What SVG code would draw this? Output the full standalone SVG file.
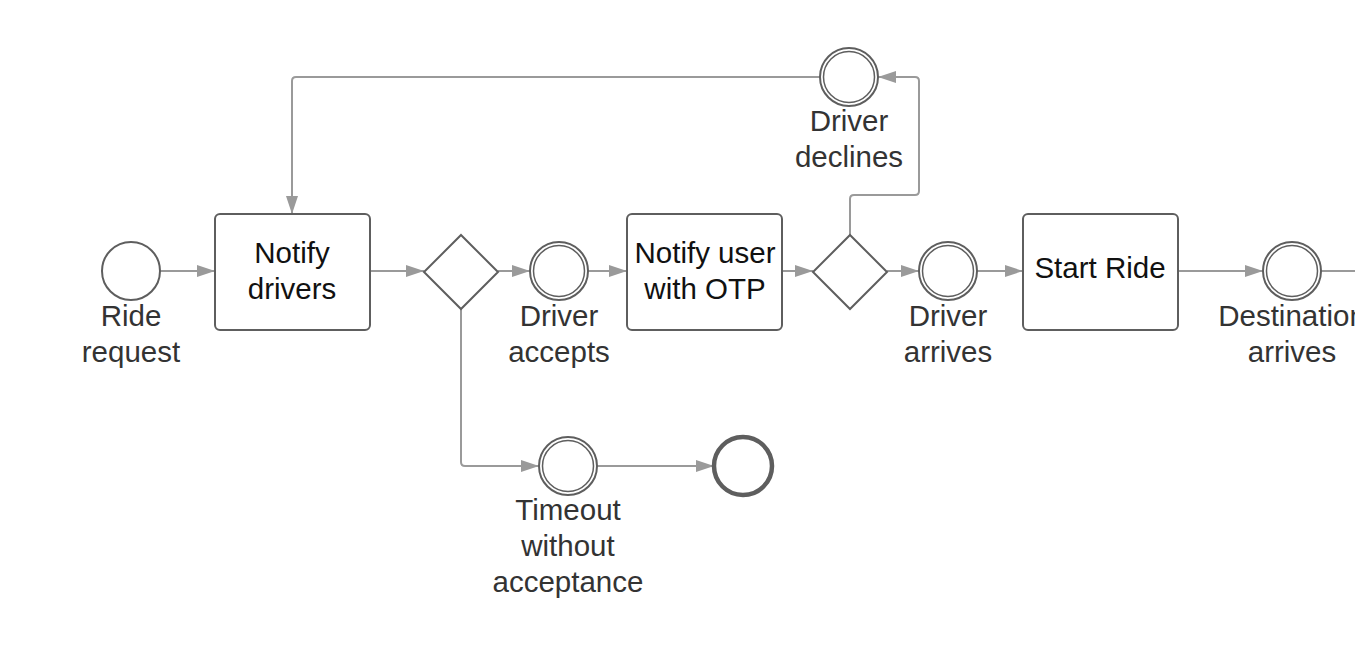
<svg xmlns="http://www.w3.org/2000/svg" width="1355" height="650" viewBox="0 0 1355 650">
<defs>
<style>
.shape{fill:#fff;stroke:#5e5e5e;stroke-width:2}
.thin{fill:none;stroke:#5e5e5e;stroke-width:1.5}
.end{fill:#fff;stroke:#5e5e5e;stroke-width:4.5}
.conn{fill:none;stroke:#9a9a9a;stroke-width:2;stroke-linejoin:round}
.lbl{font-family:"Liberation Sans",Arial,sans-serif;font-size:29.5px;fill:#333;text-anchor:middle}
.btxt{font-family:"Liberation Sans",Arial,sans-serif;font-size:29.5px;fill:#111;text-anchor:middle}
</style>
<marker id="arr" viewBox="0 0 18 12" refX="18" refY="6" markerWidth="18" markerHeight="12" markerUnits="userSpaceOnUse" orient="auto">
<path d="M0,0 L18,6 L0,12 Z" fill="#9a9a9a"/>
</marker>
</defs>
<rect width="1355" height="650" fill="#fff"/>
<g id="connectors">
<path class="conn" d="M160,271 L215,271" marker-end="url(#arr)"/>
<path class="conn" d="M370,271 L424,271" marker-end="url(#arr)"/>
<path class="conn" d="M498,271 L530,271" marker-end="url(#arr)"/>
<path class="conn" d="M588,271 L627,271" marker-end="url(#arr)"/>
<path class="conn" d="M782,271 L813,271" marker-end="url(#arr)"/>
<path class="conn" d="M887,271 L919,271" marker-end="url(#arr)"/>
<path class="conn" d="M977,271 L1023,271" marker-end="url(#arr)"/>
<path class="conn" d="M1178,271 L1263,271" marker-end="url(#arr)"/>
<path class="conn" d="M1321,271 L1360,271"/>
<path class="conn" d="M850,235 L850,199 Q850,195 854,195 L915,195 Q919,195 919,191 L919,81 Q919,77 915,77 L878,77" marker-end="url(#arr)"/>
<path class="conn" d="M820,77 L296,77 Q292,77 292,81 L292,214" marker-end="url(#arr)"/>
<path class="conn" d="M461,309 L461,462 Q461,466 465,466 L539,466" marker-end="url(#arr)"/>
<path class="conn" d="M597,466 L714,466" marker-end="url(#arr)"/>
</g>
<g id="ride-request">
<circle class="shape" cx="131" cy="271" r="29"/>
<text class="lbl" x="131" y="326">Ride</text>
<text class="lbl" x="131" y="362">request</text>
</g>
<g id="notify-drivers">
<rect class="shape" x="215" y="214" width="155" height="116" rx="5"/>
<text class="btxt" x="292" y="263">Notify</text>
<text class="btxt" x="292" y="299">drivers</text>
</g>
<g id="gateway-1">
<path class="shape" d="M461,235 L498,272 L461,309 L424,272 Z"/>
</g>
<g id="driver-accepts">
<circle class="shape" cx="559" cy="271" r="29"/>
<circle class="thin" cx="559" cy="271" r="25.5"/>
<text class="lbl" x="559" y="326">Driver</text>
<text class="lbl" x="559" y="362">accepts</text>
</g>
<g id="notify-user">
<rect class="shape" x="627" y="214" width="155" height="116" rx="5"/>
<text class="btxt" x="705" y="263">Notify user</text>
<text class="btxt" x="705" y="299">with OTP</text>
</g>
<g id="gateway-2">
<path class="shape" d="M850,235 L887,272 L850,309 L813,272 Z"/>
</g>
<g id="driver-declines">
<circle class="shape" cx="849" cy="77" r="29"/>
<circle class="thin" cx="849" cy="77" r="25.5"/>
<text class="lbl" x="849" y="131">Driver</text>
<text class="lbl" x="849" y="167">declines</text>
</g>
<g id="driver-arrives">
<circle class="shape" cx="948" cy="271" r="29"/>
<circle class="thin" cx="948" cy="271" r="25.5"/>
<text class="lbl" x="948" y="326">Driver</text>
<text class="lbl" x="948" y="362">arrives</text>
</g>
<g id="start-ride">
<rect class="shape" x="1023" y="214" width="155" height="116" rx="5"/>
<text class="btxt" x="1100" y="278">Start Ride</text>
</g>
<g id="destination-arrives">
<circle class="shape" cx="1292" cy="271" r="29"/>
<circle class="thin" cx="1292" cy="271" r="25.5"/>
<text class="lbl" x="1292" y="326">Destination</text>
<text class="lbl" x="1292" y="362">arrives</text>
</g>
<g id="timeout">
<circle class="shape" cx="568" cy="466" r="29"/>
<circle class="thin" cx="568" cy="466" r="25.5"/>
<text class="lbl" x="568" y="520">Timeout</text>
<text class="lbl" x="568" y="556">without</text>
<text class="lbl" x="568" y="592">acceptance</text>
</g>
<g id="end-event">
<circle class="end" cx="743" cy="466" r="29"/>
</g>
</svg>
